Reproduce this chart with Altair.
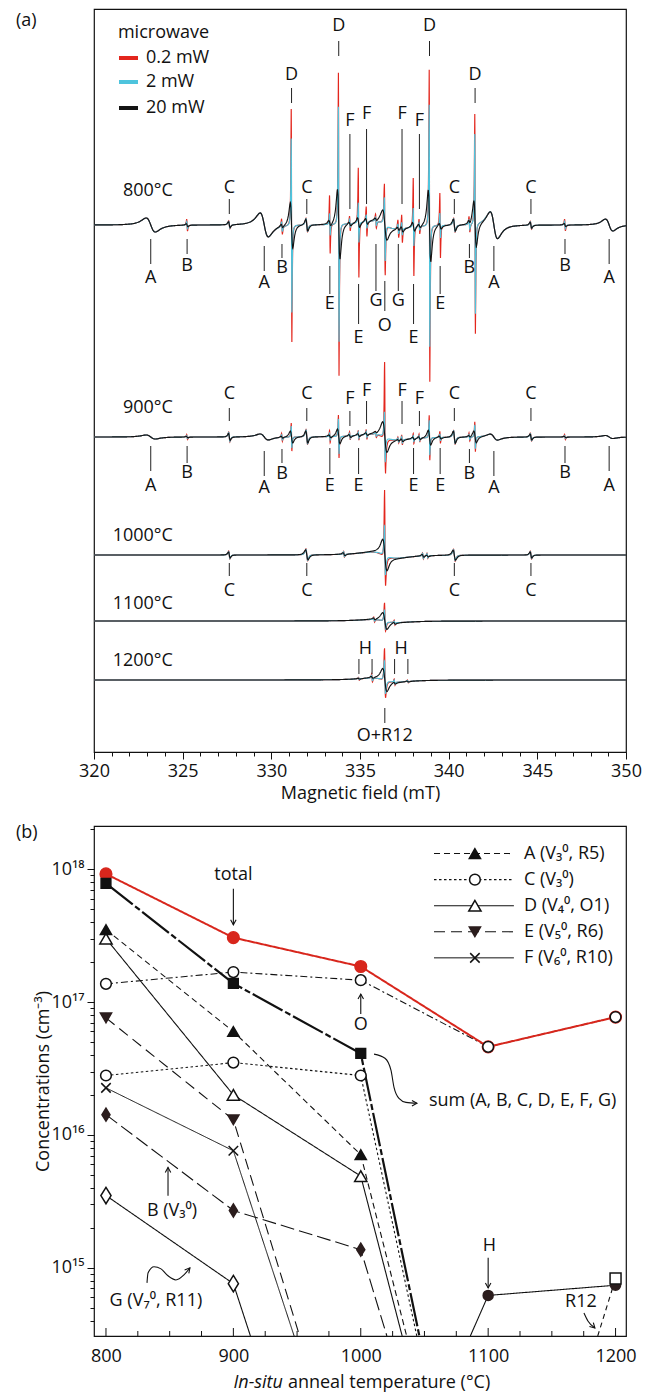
import numpy as np
import pandas as pd
import altair as alt

FONT = "Open Sans"
FS = 18

# ======================= (a) EPR spectra =======================
FIELD_RANGE = [320.0, 350.0]
POWERS = ["0.2 mW", "2 mW", "20 mW"]
POWER_COLORS = ["#e3261d", "#4ec4dd", "#141414"]
TEMPS_A = [800, 900, 1000, 1100, 1200]
TEMP_TEXT = ["800°C", "900°C", "1000°C", "1100°C", "1200°C"]
TRACE_OFFSET = [527, 315, 197, 131, 72]      # vertical offset of each trace (arb. units)
TEMP_TEXT_DY = [34, 29, 19, 17, 19]

# line families: field positions (mT)
A_POS = [323.20, 329.60, 342.55, 349.05]
B_POS = [325.25, 330.60, 341.17, 346.56]
C_POS = [327.63, 332.00, 340.32, 344.64]
D_POS = [331.14, 333.80, 338.92, 341.49]
E_POS = [333.30, 334.92, 338.02, 339.52]
F_POS = [334.43, 335.37, 337.37, 338.35]
G_POS = [335.90, 337.16]
H_POS = [334.94, 335.68, 336.95, 337.70]
O_POS = 336.40

# spectral lines: (position, width, p-p 0.2 mW, p-p 2 mW, p-p 20 mW, width at 20 mW)
LINES_800 = [
    (323.20, 0.45, 14, 14, 14, 0.45), (329.60, 0.40, 24, 24, 24, 0.40),
    (342.55, 0.36, 27, 27, 27, 0.36), (349.05, 0.36, 12, 12, 12, 0.36),
    (325.25, 0.04, 12, 7, 3, 0.08), (330.60, 0.04, 16, 10, 4, 0.08),
    (341.17, 0.04, 16, 10, 4, 0.08), (346.56, 0.04, 12, 7, 3, 0.08),
    (327.63, 0.06, 8, 7, 6, 0.08), (332.00, 0.07, 14, 13, 12, 0.10),
    (340.32, 0.07, 14, 13, 12, 0.10), (344.64, 0.06, 8, 7, 6, 0.08),
    (331.14, 0.03, 233, 174, 46, 0.12), (333.80, 0.03, 303, 235, 70, 0.12),
    (338.92, 0.03, 312, 242, 72, 0.12), (341.49, 0.03, 220, 180, 47, 0.12),
    (333.30, 0.03, 58, 22, 6, 0.10), (334.92, 0.03, 110, 40, 10, 0.10),
    (338.02, 0.03, 98, 38, 9, 0.10), (339.52, 0.03, 65, 25, 6, 0.10),
    (334.43, 0.035, 15, 8, 4, 0.10), (335.37, 0.035, 30, 14, 6, 0.10),
    (337.37, 0.035, 28, 13, 6, 0.10), (338.35, 0.035, 15, 8, 4, 0.10),
    (335.90, 0.04, 14, 8, 3, 0.10), (337.16, 0.04, 18, 10, 4, 0.10),
    (336.40, 1.20, 8, 8, 8, 1.20),
]
LINES_900 = [
    (323.20, 0.45, 4, 4, 4, 0.45), (329.60, 0.40, 6, 6, 6, 0.40),
    (342.55, 0.36, 6, 6, 6, 0.36), (349.05, 0.36, 3, 3, 3, 0.36),
    (325.25, 0.04, 5, 3, 1.5, 0.08), (330.60, 0.04, 8, 5, 2, 0.08),
    (341.17, 0.04, 8, 5, 2, 0.08), (346.56, 0.04, 5, 3, 1.5, 0.08),
    (327.63, 0.06, 10, 9, 7, 0.08), (332.00, 0.07, 15, 14, 12, 0.10),
    (340.32, 0.07, 14, 13, 12, 0.10), (344.64, 0.06, 8, 7, 6, 0.08),
    (331.14, 0.03, 28, 22, 12, 0.12), (333.80, 0.03, 43, 35, 15, 0.12),
    (338.92, 0.03, 45, 35, 15, 0.12), (341.49, 0.03, 30, 24, 12, 0.12),
    (333.30, 0.03, 12, 7, 3, 0.10), (334.92, 0.03, 10, 6, 3, 0.10),
    (338.02, 0.03, 10, 6, 3, 0.10), (339.52, 0.03, 12, 7, 3, 0.10),
    (334.43, 0.035, 8, 5, 3, 0.10), (335.37, 0.035, 10, 6, 3, 0.10),
    (337.37, 0.035, 10, 6, 3, 0.10), (338.35, 0.035, 8, 5, 3, 0.10),
    (335.90, 0.04, 6, 4, 2, 0.10), (337.16, 0.04, 6, 4, 2, 0.10),
    (336.40, 1.20, 6, 6, 6, 1.20),
]
LINES_1000 = [
    (327.63, 0.06, 8, 7, 6, 0.08), (332.00, 0.08, 12, 11, 10, 0.12),
    (340.32, 0.08, 12, 11, 10, 0.12), (344.64, 0.06, 8, 7, 6, 0.08),
    (334.10, 0.04, 6, 5, 3, 0.10), (338.55, 0.04, 6, 5, 3, 0.10),
    (338.80, 0.04, 5, 4, 2, 0.10),
    (336.40, 1.20, 6, 6, 6, 1.20),
]
LINES_1100 = [
    (335.80, 0.04, 5, 3, 2, 0.10), (336.95, 0.04, 5, 3, 2, 0.10),
    (336.40, 1.20, 3, 3, 3, 1.20),
]
LINES_1200 = [
    (334.94, 0.04, 3, 2, 1, 0.10), (335.68, 0.04, 8, 5, 2, 0.10),
    (336.95, 0.04, 6, 4, 2, 0.10), (337.70, 0.04, 3, 2, 1, 0.10),
    (336.40, 1.20, 4, 4, 4, 1.20),
]
SPECTRA = [LINES_800, LINES_900, LINES_1000, LINES_1100, LINES_1200]
# central O line: (width, p-p 0.2 mW, p-p 2 mW, p-p 20 mW, width 20 mW, asym 0.2 mW, asym 2 mW)
O_LINE = [
    (0.040, 91, 63, 28, 0.20, -12, -11),
    (0.040, 94, 50, 29, 0.20, 50, 0),
    (0.045, 78, 48, 30, 0.20, 45, 13),
    (0.050, 25, 18, 16, 0.20, 11, 5),
    (0.050, 44, 32, 22, 0.20, 19, 8),
]


def lineshape(B, pos, w, pp, asym=0.0):
    x = (B - pos) / w
    d = 1.0 + x * x
    return pp / 1.299 * (-2.0 * x / d ** 2) + asym * (1.0 - x * x) / d ** 2


grid = np.arange(FIELD_RANGE[0], FIELD_RANGE[1] + 1e-9, 0.04)
kk = np.array([-8, -4, -2.5, -1.5, -1, -0.577, -0.3, 0, 0.3, 0.577, 1, 1.5, 2.5, 4, 8])
frames = []
for ti, temp in enumerate(TEMPS_A):
    lines = SPECTRA[ti]
    ow, opr, opc, opk, owk, oar, oac = O_LINE[ti]
    for pi, power in enumerate(POWERS):
        comps = [(p, (wb if pi == 2 else w), (r, c, k)[pi], 0.0) for (p, w, r, c, k, wb) in lines]
        comps.append((O_POS, owk if pi == 2 else ow, (opr, opc, opk)[pi], (oar, oac, 0.0)[pi]))
        pts = [grid] + [p + w * kk for (p, w, a, m) in comps]
        B = np.unique(np.clip(np.concatenate(pts), FIELD_RANGE[0], FIELD_RANGE[1]))
        y = np.full(B.shape, float(TRACE_OFFSET[ti]))
        for (p, w, a, m) in comps:
            y += lineshape(B, p, w, a, m)
        frames.append(pd.DataFrame({"B": np.round(B, 4), "y": np.round(y, 2),
                                    "temp": temp, "power": power}))
spec = pd.concat(frames, ignore_index=True)

# annotations (letter, field, text dy, tick top dy, tick bottom dy) relative to trace
LAB_800 = (
    [("D", p, 150, 137, 122) for p in (D_POS[0], D_POS[3])]
    + [("D", p, 199, 184, 169) for p in (D_POS[1], D_POS[2])]
    + [("C", p, 37, 26, 11) for p in C_POS]
    + [("F", p, 104, 91, 16) for p in (F_POS[0], F_POS[3])]
    + [("F", p, 111, 96, 21) for p in (F_POS[1], F_POS[2])]
    + [("A", p, -53, -14, -39) for p in (A_POS[0], A_POS[3])]
    + [("A", p, -58, -21, -46) for p in (A_POS[1], A_POS[2])]
    + [("B", p, -41, -14, -29) for p in (B_POS[0], B_POS[3])]
    + [("B", p, -43, -19, -33) for p in (B_POS[1], B_POS[2])]
    + [("E", p, -79, -41, -69) for p in (E_POS[0], E_POS[3])]
    + [("E", p, -113, -59, -99) for p in (E_POS[1], E_POS[2])]
    + [("G", p, -76, -19, -66) for p in G_POS]
    + [("O", O_POS, -101, -56, -86)]
)
LAB_900 = (
    [("C", p, 43, 29, 16) for p in C_POS]
    + [("F", p, 38, 26, 11) for p in (F_POS[0], F_POS[3])]
    + [("F", p, 46, 36, 13) for p in (F_POS[1], F_POS[2])]
    + [("A", p, -49, -9, -34) for p in (A_POS[0], A_POS[3])]
    + [("A", p, -51, -14, -39) for p in (A_POS[1], A_POS[2])]
    + [("B", p, -36, -9, -26) for p in (B_POS[0], B_POS[3])]
    + [("B", p, -37, -12, -26) for p in (B_POS[1], B_POS[2])]
    + [("E", p, -49, -11, -37) for p in E_POS]
)
LAB_1000 = [("C", p, -36, -8, -21) for p in C_POS]
LAB_1200 = ([("", p, None, 21, 6) for p in H_POS]
            + [("H", 335.31, 31, None, None), ("H", 337.32, 31, None, None)]
            + [("O+R12", O_POS, -56, -28, -43)])
LABELS = {0: LAB_800, 1: LAB_900, 2: LAB_1000, 4: LAB_1200}

txt_rows, tick_rows = [], []
for ti, labs in LABELS.items():
    base = TRACE_OFFSET[ti]
    for (t, p, dy, t1, t2) in labs:
        if t and dy is not None:
            txt_rows.append({"B": p, "y": base + dy, "t": t})
        if t1 is not None:
            tick_rows.append({"B": p, "y1": base + t1, "y2": base + t2})
ann_txt = pd.DataFrame(txt_rows)
ann_tick = pd.DataFrame(tick_rows)
temp_txt = pd.DataFrame({"B": 324.45, "y": [o + d for o, d in zip(TRACE_OFFSET, TEMP_TEXT_DY)],
                         "t": TEMP_TEXT})

leg_a_lines = pd.DataFrame({"B": 321.41, "B2": 322.48, "y": [694, 670, 644], "col": POWER_COLORS})
leg_a_text = pd.DataFrame({"B": [321.35] + [322.93] * 3, "y": [719, 694, 670, 644],
                           "t": ["microwave"] + POWERS})
panel_a_tag = pd.DataFrame({"B": [315.6], "y": [731], "t": ["(a)"]})

WA, HA = 532, 743
xa_scale = alt.Scale(domain=FIELD_RANGE, nice=False, zero=False)
xa = alt.X("B:Q", scale=xa_scale,
           axis=alt.Axis(values=list(range(320, 351)), labelExpr="datum.value % 5 === 0 ? datum.label : ''",
                         tickSize={"condition": {"test": "datum.value % 5 === 0", "value": 7}, "value": 4},
                         domain=False, grid=False, title="Magnetic field (mT)", labelFlush=False,
                         labelPadding=3, titlePadding=4))
ya_scale = alt.Scale(domain=[0, HA], nice=False, zero=False)
ya = alt.Y("y:Q", scale=ya_scale,
           axis=alt.Axis(title="EPR signal (arbitrary units)", labels=False, ticks=False, domain=False,
                         grid=False, titleX=-51, titleY=HA / 2, titleBaseline="middle"))

layers_a = []
for power, col in zip(POWERS, POWER_COLORS):
    layers_a.append(alt.Chart(spec).transform_filter(alt.datum.power == power)
                    .mark_line(color=col, strokeWidth=1.15)
                    .encode(x=xa, y=ya, detail="temp:N", order="B:Q"))
layers_a.append(alt.Chart(ann_tick).mark_rule(color="#222", strokeWidth=1)
                .encode(x=xa, y=alt.Y("y1:Q", scale=ya_scale, axis=None), y2="y2:Q"))
layers_a.append(alt.Chart(ann_txt).mark_text(font=FONT, fontSize=FS, baseline="middle", color="#111")
                .encode(x=xa, y=ya, text="t:N"))
layers_a.append(alt.Chart(temp_txt).mark_text(font=FONT, fontSize=FS, baseline="middle", align="right",
                                              color="#111").encode(x=xa, y=ya, text="t:N"))
layers_a.append(alt.Chart(leg_a_lines).mark_rule(strokeWidth=4)
                .encode(x=xa, x2="B2:Q", y=alt.Y("y:Q", scale=ya_scale, axis=None),
                        color=alt.Color("col:N", scale=None)))
layers_a.append(alt.Chart(leg_a_text).mark_text(font=FONT, fontSize=FS, baseline="middle", align="left",
                                                color="#111").encode(x=xa, y=ya, text="t:N"))
layers_a.append(alt.Chart(panel_a_tag).mark_text(font=FONT, fontSize=FS, baseline="middle", align="left",
                                                 color="#111").encode(x=xa, y=ya, text="t:N"))
chart_a = alt.layer(*layers_a).properties(width=WA, height=HA)

# ======================= (b) concentrations =======================
T_ANNEAL = [800, 900, 1000, 1100, 1200]
TOTAL = [9.2e17, 3.05e17, 1.85e17, 4.6e16, 7.7e16]
O_CONC = [1.37e17, 1.68e17, 1.46e17, 4.6e16, 7.7e16]
SUM_CONC = [7.8e17, 1.38e17, 4.1e16, None, None]
A_CONC = [3.5e17, 6.0e16, 7.1e15, None, None]
B_CONC = [1.42e16, 2.7e15, 1.37e15, None, None]
C_CONC = [2.8e16, 3.5e16, 2.8e16, None, None]
D_CONC = [3.0e17, 2.0e16, 4.9e15, None, None]
E_CONC = [7.6e16, 1.3e16, None, None, None]
F_CONC = [2.26e16, 7.6e15, None, None, None]
G_CONC = [3.5e15, 7.6e14, None, None, None]
H_CONC = [None, None, None, 6.2e14, 7.4e14]
R12_CONC = [None, None, None, None, 8.3e14]
# temperature where a curve leaves (drops below) / enters the lower edge of the plot
DROP_T = {"sum": 1046.0, "A": 1036.0, "B": 1020.5, "C": 1044.0, "D": 1032.5,
          "E": 952.0, "F": 947.7, "G": 913.4}
RISE_T = {"H": 1086.0, "R12": 1186.0}

Y_DOM = [3.07e14, 2.11e18]
X_DOM = [790.6, 1208.2]
WB, HB = 532, 510

SERIES = {"total": TOTAL, "O": O_CONC, "sum": SUM_CONC, "A": A_CONC, "B": B_CONC, "C": C_CONC,
          "D": D_CONC, "E": E_CONC, "F": F_CONC, "G": G_CONC, "H": H_CONC, "R12": R12_CONC}

DIAMOND = "M0,-1L0.62,0L0,1L-0.62,0Z"
XMARK = "M-1,-1L1,1M-1,1L1,-1"
ARROWHEAD = "M-0.55,-1L0,0L0.55,-1"

# line style: (dash, width, colour)
LINE_STYLE = {
    "O": ([7, 3, 2, 3], 1.1, "#111"), "sum": ([34, 3, 6, 3], 2.2, "#111"),
    "A": ([6, 4], 1.1, "#111"), "B": ([14, 5], 1.1, "#111"), "C": ([2.5, 2.5], 1.1, "#111"),
    "D": ([1, 0], 1.1, "#111"), "E": ([11, 6], 1.1, "#111"), "F": ([1, 0], 1.0, "#111"),
    "G": ([1, 0], 1.1, "#111"), "H": ([1, 0], 1.1, "#111"), "R12": ([5, 4], 1.1, "#111"),
    "total": ([1, 0], 2.0, "#d8261c"),
}
# marker style: (shape, fill, stroke, size)
MARK_STYLE = {
    "total": ("circle", "#d8261c", "#d8261c", 135), "O": ("circle", "white", "#111", 115),
    "sum": ("square", "#111", "#111", 95), "A": ("triangle-up", "#111", "#111", 125),
    "B": (DIAMOND, "#2b1d1d", "#2b1d1d", 169), "C": ("circle", "white", "#111", 115),
    "D": ("triangle-up", "white", "#111", 150), "E": ("triangle-down", "#2b1d1d", "#2b1d1d", 125),
    "F": (XMARK, None, "#111", 90), "G": (DIAMOND, "white", "#111", 270),
    "H": ("circle", "#2b1d1d", "#2b1d1d", 100), "R12": ("square", "white", "#111", 120),
}

YVALS = [k * 10.0 ** n for n in range(14, 19) for k in range(1, 10)
         if Y_DOM[0] <= k * 10.0 ** n <= Y_DOM[1]]
POW_TEST = "indexof([1e15,1e16,1e17,1e18], datum.value) >= 0"
xb_scale = alt.Scale(domain=X_DOM, nice=False, zero=False)
yb_scale = alt.Scale(type="log", domain=Y_DOM, nice=False)
xb = alt.X("T:Q", scale=xb_scale,
           axis=alt.Axis(values=T_ANNEAL, ticks=False, domain=False, grid=False, title=None,
                         labelFlush=False, labelPadding=11, format="d"))
yb = alt.Y("v:Q", scale=yb_scale,
           axis=alt.Axis(values=YVALS, domain=False, grid=False, title="Concentrations (cm⁻³)",
                         labelExpr="(" + POW_TEST + ") ? '10' + ['¹⁵','¹⁶','¹⁷','¹⁸'][indexof([1e15,1e16,1e17,1e18], datum.value)] : ''",
                         tickSize={"condition": {"test": POW_TEST, "value": 7}, "value": 4},
                         labelPadding=3, titleX=-51, titleY=HB / 2, titleBaseline="middle"))

layers_b = []
# inward x ticks
layers_b.append(alt.Chart(pd.DataFrame({"T": T_ANNEAL})).mark_rule(color="#111")
                .encode(x=xb, y=alt.value(HB), y2=alt.value(HB - 8)))
layers_b.append(alt.Chart(pd.DataFrame({"T": [t + d for t in T_ANNEAL[:-1] for d in (25, 50, 75)]}))
                .mark_rule(color="#111").encode(x=xb, y=alt.value(HB), y2=alt.value(HB - 5)))

order = ["G", "B", "F", "E", "D", "C", "A", "sum", "H", "R12", "O", "total"]
for name in order:
    vals = SERIES[name]
    pts = [(t, v) for t, v in zip(T_ANNEAL, vals) if v is not None]
    if name in DROP_T:
        pts.append((DROP_T[name], Y_DOM[0]))
    if name in RISE_T:
        pts.insert(0, (RISE_T[name], Y_DOM[0]))
    dash, sw, col = LINE_STYLE[name]
    df = pd.DataFrame(pts, columns=["T", "v"])
    layers_b.append(alt.Chart(df).mark_line(color=col, strokeWidth=sw, strokeDash=dash, clip=True)
                    .encode(x=xb, y=yb, order="T:Q"))

for name in ["total", "G", "B", "F", "E", "D", "C", "A", "sum", "H", "R12", "O"]:
    vals = SERIES[name]
    df = pd.DataFrame([(t, v) for t, v in zip(T_ANNEAL, vals) if v is not None], columns=["T", "v"])
    shp, fill, stroke, size = MARK_STYLE[name]
    if fill is None:
        mk = alt.Chart(df).mark_point(shape=shp, filled=False, stroke=stroke, strokeWidth=1.5,
                                      size=size, opacity=1)
    else:
        mk = alt.Chart(df).mark_point(shape=shp, filled=True, fill=fill, stroke=stroke, strokeWidth=1.5,
                                      size=size, opacity=1, fillOpacity=1)
    layers_b.append(mk.encode(x=xb, y=yb))

# legend (A, C, D, E, F)
LEG_B = [("A", "A (V₃⁰, R5)"), ("C", "C (V₃⁰)"), ("D", "D (V₄⁰, O1)"), ("E", "E (V₅⁰, R6)"),
         ("F", "F (V₆⁰, R10)")]
LEG_TOP_LOG, LEG_STEP = 18.117, 0.1962
for i, (name, label) in enumerate(LEG_B):
    lv = 10 ** (LEG_TOP_LOG - i * LEG_STEP)
    dash, sw, col = LINE_STYLE[name]
    layers_b.append(alt.Chart(pd.DataFrame({"T": [1057.5, 1120.2], "v": [lv, lv]}))
                    .mark_line(color=col, strokeWidth=sw, strokeDash=dash).encode(x=xb, y=yb))
    shp, fill, stroke, size = MARK_STYLE[name]
    dfp = pd.DataFrame({"T": [1089.6], "v": [lv]})
    if fill is None:
        mk = alt.Chart(dfp).mark_point(shape=shp, filled=False, stroke=stroke, strokeWidth=1.5, size=size,
                                       opacity=1)
    else:
        mk = alt.Chart(dfp).mark_point(shape=shp, filled=True, fill=fill, stroke=stroke, strokeWidth=1.5,
                                       size=size, opacity=1)
    layers_b.append(mk.encode(x=xb, y=yb))
    layers_b.append(alt.Chart(pd.DataFrame({"T": [1128.1], "v": [lv], "t": [label]}))
                    .mark_text(font=FONT, fontSize=FS, align="left", baseline="middle", color="#111")
                    .encode(x=xb, y=yb, text="t:N"))

# annotation texts (T, log10 conc, text, align, dx)
ANN_B = [
    (900.0, 17.958, "total", "center", 0), (1000.0, 16.826, "O", "center", 0),
    (1053.5, 16.253, "sum (A, B, C, D, E, F, G)", "left", 0), (851.8, 15.43, "B (V₃⁰)", "center", 0),
    (839.2, 14.751, "G (V₇⁰, R11)", "center", 0), (1101.0, 15.166, "H", "center", 0),
    (1172.8, 14.743, "R12", "center", 0), (729.4, 18.268, "(b)", "left", 0),
    (938.9, 14.132, "In-situ", "right", 0), (938.9, 14.132, "anneal temperature (°C)", "left", 5),
]
for (t, lg, s, al, dx) in ANN_B:
    style = "italic" if s == "In-situ" else "normal"
    layers_b.append(alt.Chart(pd.DataFrame({"T": [t], "v": [10 ** lg], "t": [s]}))
                    .mark_text(font=FONT, fontSize=FS, align=al, baseline="middle", color="#111",
                               fontStyle=style, dx=dx)
                    .encode(x=xb, y=yb, text="t:N"))

# arrows: list of (T, log10 conc) points, arrow head angle at last point
ARROWS_B = [
    ([(900.0, 17.853), (900.0, 17.581)], 0),
    ([(1000.0, 16.909), (1000.0, 17.060)], 180),
    ([(1010.4, 16.608), (1019.0, 16.577), (1023.7, 16.487), (1026.1, 16.358), (1030.0, 16.275),
      (1035.5, 16.245), (1044.1, 16.238)], 270),
    ([(848.7, 15.543), (848.7, 15.755)], 180),
    ([(832.2, 14.887), (833.0, 14.962), (837.7, 15.008), (843.2, 14.992), (848.7, 14.940),
      (854.9, 14.909), (861.2, 14.947), (865.9, 15.000)], 220),
    ([(1100.0, 15.075), (1100.0, 14.849)], 0),
    ([(1175.2, 14.660), (1178.3, 14.600), (1183.8, 14.547)], 315),
]
arr_rows, head_rows = [], []
for k, (pts, ang) in enumerate(ARROWS_B):
    for j, (t, lg) in enumerate(pts):
        arr_rows.append({"id": k, "j": j, "T": t, "v": 10 ** lg})
    head_rows.append({"T": pts[-1][0], "v": 10 ** pts[-1][1], "ang": ang})
layers_b.append(alt.Chart(pd.DataFrame(arr_rows)).mark_line(color="#111", strokeWidth=1.1,
                                                            interpolate="monotone")
                .encode(x=xb, y=yb, detail="id:N", order="j:Q"))
layers_b.append(alt.Chart(pd.DataFrame(head_rows))
                .mark_point(shape=ARROWHEAD, filled=False, stroke="#111", strokeWidth=1.1, size=100,
                            opacity=1)
                .encode(x=xb, y=yb, angle=alt.Angle("ang:Q", scale=None)))

chart_b = alt.layer(*layers_b).properties(width=WB, height=HB)

chart = (alt.vconcat(chart_a, chart_b, spacing=20)
         .properties(padding={"left": 7, "top": 0, "right": 5, "bottom": 0})
         .configure_view(stroke="#111", strokeWidth=1.2)
         .configure_axis(labelFont=FONT, labelFontSize=FS, titleFont=FONT, titleFontSize=FS,
                         titleFontWeight="normal", labelColor="#111", titleColor="#111",
                         tickColor="#111"))
chart.save("out.html", embed_options={"renderer": "svg", "actions": False})
